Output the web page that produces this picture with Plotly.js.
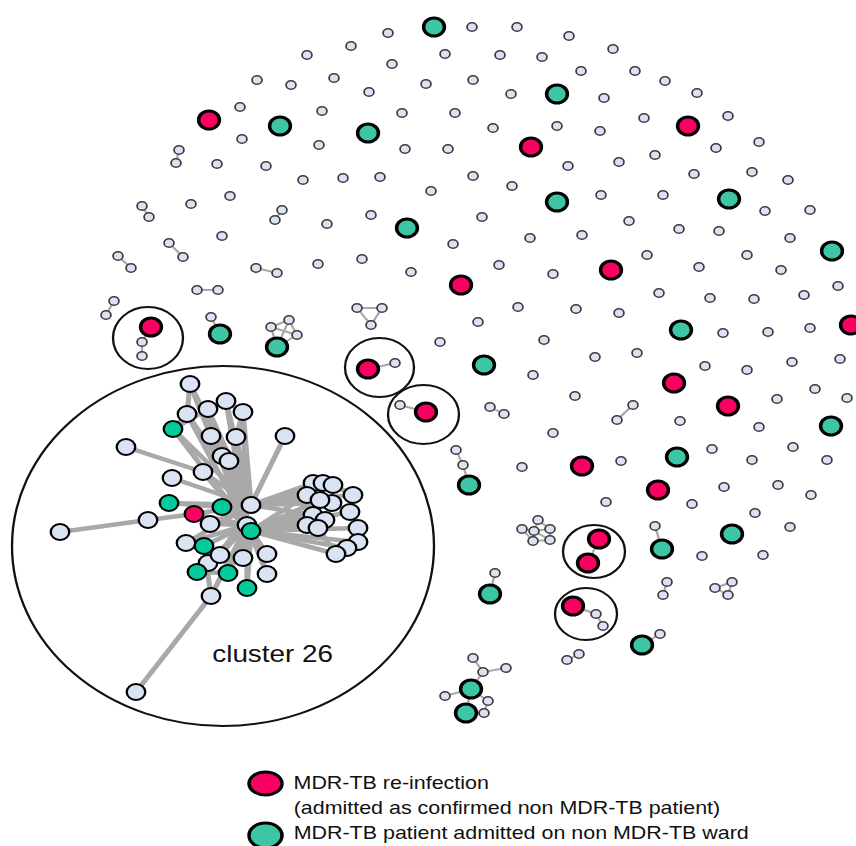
<!DOCTYPE html>
<html>
<head>
<meta charset="utf-8">
<script src="https://cdn.plot.ly/plotly-3.0.1.min.js"></script>
<style>
  html, body { margin: 0; padding: 0; background: #fff; overflow: hidden; }
  /* the layout is drawn on a narrower canvas and widened to the final frame */
  #graph { width: 738px; height: 846px; transform: scaleX(1.1599); transform-origin: 0 0; }
</style>
</head>
<body>
<div id="graph"></div>
<script>
// ---- node layout (x, y in layout units, y grows downward) ----

// unlinked contacts
const contactX = [351,307,257,291,334,369,240,322,242,319,
  217,266,303,343,380,230,191,327,371,222,
  318,362,
  388,472,517,569,613,392,445,500,542,581,635,
  426,473,511,604,402,455,493,557,600,644,
  405,448,568,619,655,473,512,431,601,482,
  453,530,582,629,647,411,499,553,
  665,697,728,716,759,694,752,788,663,765,
  810,679,719,790,699,747,781,838,
  518,576,619,478,440,544,595,637,533,575,
  553,522,621,606,
  659,710,754,804,723,768,810,705,747,792,
  840,815,847,777,680,759,712,793,752,827,
  724,778,811,692,755,790,702,763];
const contactY = [46,55,80,85,78,92,107,111,139,145,
  164,166,180,178,177,196,204,224,215,236,
  264,259,
  33,27,27,36,49,64,54,55,57,71,71,
  84,80,94,98,113,113,128,126,131,118,
  149,149,166,162,155,176,186,191,195,217,
  244,238,235,221,255,272,265,274,
  81,93,116,148,142,174,172,180,195,211,
  210,229,231,238,267,255,270,286,
  307,309,313,322,342,340,357,353,375,396,
  433,467,461,502,
  293,298,299,295,333,332,328,366,370,362,
  359,389,398,399,421,427,449,447,460,460,
  487,485,495,504,513,527,556,555];

// unlinked MDR-TB re-infections
const reinfX = [209,531,611,461,688,851,674,728,582,658];
const reinfY = [120,147,270,285,126,325,383,406,466,490];

// unlinked MDR-TB patients on non MDR-TB wards
const wardX = [434,557,557,407,280,368,729,832,484,681,831,677,732];
const wardY = [27,94,202,228,126,133,199,251,365,330,426,457,534];

// small linked groups: c = contact, r = re-infection, w = ward patient
const linkedX = [179,176, 142,149, 282,275, 169,183, 118,131, 256,277, 197,218, 114,106,
  151,142,142, 211,220, 271,289,297,277, 357,382,371, 368,395, 426,400, 490,504,
  456,463,469, 633,617, 538,522,534,550,533,550, 599,588, 573,596,603, 655,662,
  667,663, 715,732,728, 660,642, 495,490, 579,567,
  473,483,506,471,445,488,466,484];
const linkedY = [150,163, 206,217, 210,220, 243,257, 256,268, 268,273, 290,290, 301,315,
  327,342,356, 317,334, 327,320,335,347, 308,308,325, 369,363, 412,405, 407,414,
  450,465,485, 405,420, 520,529,531,529,541,540, 539,563, 606,614,626, 526,549,
  582,595, 588,582,595, 634,645, 573,594, 654,660,
  658,672,668,689,696,701,713,713];
const linkedKind = ['c','c', 'c','c', 'c','c', 'c','c', 'c','c', 'c','c', 'c','c', 'c','c',
  'r','c','c', 'c','w', 'c','c','c','w', 'c','c','c', 'r','c', 'r','c', 'c','c',
  'c','c','w', 'c','c', 'c','c','c','c','c','c', 'r','r', 'r','c','c', 'c','w',
  'c','c', 'c','c','c', 'c','w', 'c','w', 'c','c',
  'c','c','c','w','c','c','w','c'];
const linkedEdges = [[0,1],[2,3],[4,5],[6,7],[8,9],[10,11],[12,13],[14,15],
  [16,17],[17,18],[19,20],
  [21,22],[22,23],[21,23],[21,24],[23,24],[22,24],
  [25,26],[26,27],[25,27],[28,29],[30,31],[32,33],[34,35],[35,36],[37,38],
  [39,41],[39,42],[40,41],[41,42],[41,43],[41,44],[42,44],[43,44],[40,43],
  [45,46],[47,48],[48,49],[50,51],[52,53],[54,55],[55,56],[54,56],[57,58],[59,60],[61,62],
  [63,64],[64,65],[64,66],[66,67],[66,68],[66,69],[69,70],[68,70]];

// cluster 26
const c26X = [190,208,226,243,187,173,211,236,285,126,
  222,229,203,172,169,222,251,194,210,148,
  60,247,251,186,204,208,220,243,267,197,
  228,267,247,211,136,
  313,323,333,307,353,332,320,350,313,325,
  307,318,358,358,347,336];
const c26Y = [384,409,401,412,414,429,436,437,436,447,
  456,461,472,478,503,507,505,514,524,520,
  532,525,531,543,546,563,555,558,554,572,
  573,574,588,596,692,
  483,483,485,495,495,503,500,512,515,520,
  525,528,528,542,548,554];
const c26Kind = ['c','c','c','c','c','w','c','c','c','c',
  'c','c','c','c','w','w','c','r','c','c',
  'c','c','w','c','w','c','c','c','c','w',
  'w','c','w','c','c',
  'c','c','c','c','c','c','c','c','c','c',
  'c','c','c','c','c','c'];
const c26Edges = [
  [0,16],[0,21],[1,16],[2,16],[3,16],[4,16],[5,16],[6,16],[7,16],[10,16],[11,16],
  [1,21],[2,21],[3,21],[6,21],[7,21],[10,21],[11,22],[4,21],[5,21],
  [0,4],[1,2],[2,3],[4,5],[5,1],[0,6],[3,7],
  [8,16],[9,12],[12,16],[12,21],[13,16],
  [14,15],[14,16],[15,16],[15,21],
  [19,20],[17,19],[17,16],[17,21],[18,21],[18,16],
  [23,21],[24,21],[25,21],[26,21],[27,21],[28,21],[29,21],[30,21],[31,21],[32,21],[33,21],
  [23,16],[26,16],[27,22],[28,22],[30,22],[31,22],[32,22],[33,24],[24,26],[29,30],
  [33,34],
  [35,16],[36,16],[37,16],[38,16],[39,16],[40,16],[41,16],[43,16],
  [38,22],[43,22],[44,22],[45,22],[46,22],[41,22],[40,22],[42,22],[47,22],[48,22],[49,22],[50,22],
  [37,39],[39,42],[42,47],[47,48],[48,49],[49,50],[50,46],[46,45],[45,38],[38,35],[35,36],[36,37],
  [40,44],[41,43]
];

// ---- styling ----
const FONT = 'Liberation Sans, Arial, Helvetica, sans-serif';
const LIGHT = '#dae3f4';
const RED = '#fa0062';
const GREEN = '#3cc6a6';
const GREEN26 = '#03cc9c';
const EDGE = '#a9a9a9';

function edgeTrace(xs, ys, pairs, width) {
  const x = [], y = [];
  pairs.forEach(([a, b]) => { x.push(xs[a], xs[b], null); y.push(ys[a], ys[b], null); });
  return { type: 'scatter', mode: 'lines', x, y, hoverinfo: 'skip',
           line: { color: EDGE, width: width } };
}

function pick(kind) {
  const x = [], y = [];
  linkedKind.forEach((k, i) => { if (k === kind) { x.push(linkedX[i]); y.push(linkedY[i]); } });
  return { x, y };
}

const smallLinked = pick('c');
const redLinked = pick('r');
const greenLinked = pick('w');

const traces = [
  edgeTrace(linkedX, linkedY, linkedEdges, 2),
  edgeTrace(c26X, c26Y, c26Edges, 4.5),
  { type: 'scatter', mode: 'markers', hoverinfo: 'skip',
    x: contactX.concat(smallLinked.x), y: contactY.concat(smallLinked.y),
    marker: { size: 8.5, color: LIGHT, line: { color: '#3c3c3c', width: 1.5 } } },
  { type: 'scatter', mode: 'markers', hoverinfo: 'skip',
    x: reinfX.concat(redLinked.x), y: reinfY.concat(redLinked.y),
    marker: { size: 18, color: RED, line: { color: '#000', width: 3 } } },
  { type: 'scatter', mode: 'markers', hoverinfo: 'skip',
    x: wardX.concat(greenLinked.x), y: wardY.concat(greenLinked.y),
    marker: { size: 18, color: GREEN, line: { color: '#000', width: 3 } } },
  { type: 'scatter', mode: 'markers', hoverinfo: 'skip',
    x: c26X, y: c26Y,
    marker: { size: 16, line: { color: '#000', width: 2 },
              color: c26Kind.map(k => k === 'r' ? RED : (k === 'w' ? GREEN26 : LIGHT)) } }
];

function ring(x0, x1, y0, y1) {
  return { type: 'circle', xref: 'x', yref: 'y', x0, x1, y0, y1, layer: 'below',
           line: { color: '#111', width: 2 }, fillcolor: 'rgba(0,0,0,0)' };
}
function key(y0, y1, fill) {
  return { type: 'circle', xref: 'x', yref: 'y', x0: 249, x1: 282, y0, y1, layer: 'above',
           line: { color: '#000', width: 3 }, fillcolor: fill };
}
function label(text, x, y, size, anchor) {
  return { text, x, y, xref: 'x', yref: 'y', showarrow: false, xanchor: anchor, yanchor: 'middle',
           font: { family: FONT, size, color: '#111' } };
}

const layout = {
  width: 738, height: 846,
  margin: { l: 0, r: 0, t: 0, b: 0 },
  paper_bgcolor: '#fff', plot_bgcolor: '#fff',
  showlegend: false,
  xaxis: { range: [0, 856], visible: false, fixedrange: true },
  yaxis: { range: [846, 0], visible: false, fixedrange: true },
  shapes: [
    ring(113, 183, 307, 369),
    ring(345, 414, 338, 397),
    ring(388, 459, 385, 444),
    ring(563, 625, 525, 578),
    ring(555, 617, 588, 640),
    ring(12, 434, 366, 726),
    key(772, 795, RED),
    key(823, 848, GREEN)
  ],
  annotations: [
    label('cluster 26', 272, 653, 24, 'center'),
    label('MDR-TB re-infection', 291, 782, 18.5, 'left'),
    label('(admitted as confirmed non MDR-TB patient)', 291, 807, 18.5, 'left'),
    label('MDR-TB patient admitted on non MDR-TB ward', 291, 832, 18.5, 'left')
  ]
};

Plotly.newPlot('graph', traces, layout, { staticPlot: true, displayModeBar: false });
</script>
</body>
</html>
